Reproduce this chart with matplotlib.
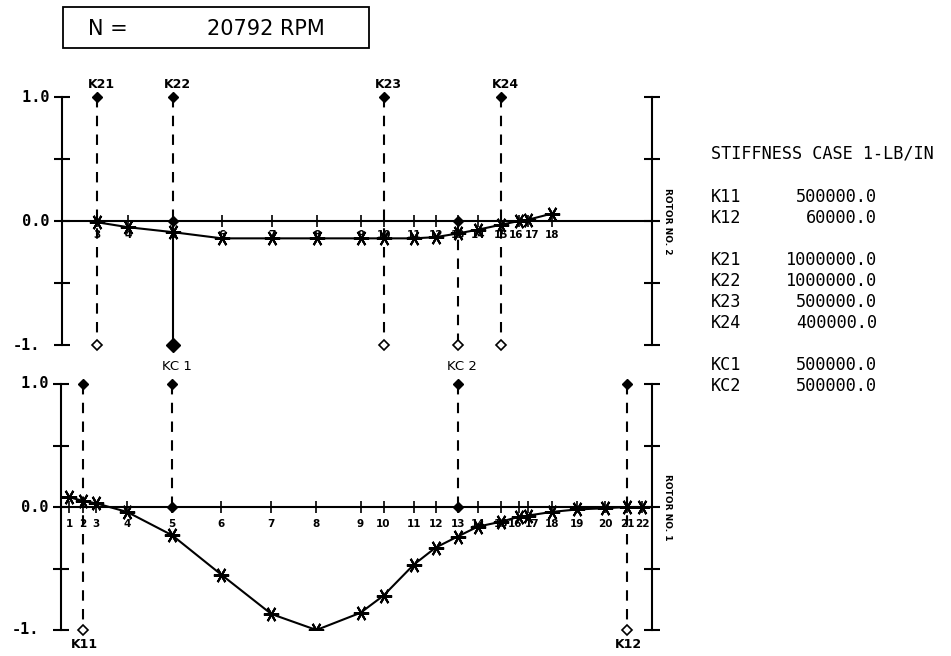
import matplotlib.pyplot as plt
from matplotlib.patches import Rectangle
from matplotlib.transforms import blended_transform_factory

# axial location of every station along the shafts (stations 1..22)
station_x = [0.8, 2.2, 3.5, 6.6, 11.1, 16.0, 21.0, 25.5, 29.9, 32.2, 35.2,
             37.4, 39.6, 41.6, 43.9, 45.7, 46.6, 49.0, 51.5, 54.3, 56.5, 58.0]

# rotor 1 normalised mode shape
rotor1_stations = list(range(1, 23))
rotor1_defl = [0.08, 0.05, 0.03, -0.04, -0.23, -0.55, -0.87, -1.0, -0.86, -0.72, -0.47,
               -0.33, -0.24, -0.16, -0.12, -0.08, -0.07, -0.04, -0.02, -0.01, 0.0, 0.0]

# rotor 2 normalised mode shape
rotor2_stations = list(range(3, 19))
rotor2_defl = [-0.01, -0.05, -0.09, -0.14, -0.14, -0.14, -0.14, -0.14, -0.14, -0.13,
               -0.10, -0.07, -0.03, 0.0, 0.01, 0.06]

# bearing springs (name, station) and intershaft couplings
rotor1_springs = ['K11', 'K12']
rotor1_spring_st = [2, 21]
rotor2_springs = ['K21', 'K22', 'K23', 'K24']
rotor2_spring_st = [3, 5, 10, 15]
couplings = ['KC 1', 'KC 2']
coupling_st = [5, 13]

# stiffness table
table_names = ['K11', 'K12', None, 'K21', 'K22', 'K23', 'K24', None, 'KC1', 'KC2']
table_vals = [500000.0, 60000.0, None, 1000000.0, 1000000.0, 500000.0, 400000.0,
              None, 500000.0, 500000.0]

speed_rpm = 20792

W, H = 951, 656
fig = plt.figure(figsize=(W / 100, H / 100), dpi=100)

ax2 = fig.add_axes([62 / W, 1 - 345 / H, 590 / W, 248 / H])
ax1 = fig.add_axes([61 / W, 1 - 630 / H, 591 / W, 246 / H])

mono = 'DejaVu Sans Mono'


def draw_rotor(ax, stations, defl, label_y, rotor_name):
    xs = [station_x[s - 1] for s in stations]
    ax.set_xlim(0, 59)
    ax.set_ylim(-1, 1)
    ax.spines['top'].set_visible(False)
    ax.spines['bottom'].set_visible(False)
    for side in ['left', 'right']:
        ax.spines[side].set_linewidth(1.5)
    ax.set_xticks([])
    ax.set_yticks([-1, -0.5, 0, 0.5, 1])
    ax.set_yticklabels([])
    ax.tick_params(axis='y', direction='inout', length=11, width=1.5,
                   left=True, right=True)
    ax.patch.set_visible(False)

    trans = blended_transform_factory(ax.transAxes, ax.transData)
    for y, lab in zip([1.0, 0.0, -1.0], [' 1.0', ' 0.0', '-1.']):
        ax.text(-0.083, y, lab, transform=trans, ha='left', va='center',
                family=mono, fontweight='bold', fontsize=11)
    ax.text(1.027, 0, rotor_name, transform=trans, rotation=-90,
            ha='center', va='center', fontsize=6.5, fontweight='bold')

    # shaft centre line with station ticks
    ax.axhline(0, color='k', lw=1.5, zorder=2)
    ax.plot(xs, [0] * len(xs), ls='none', marker='|', ms=9, mew=1.2,
            color='k', zorder=2)
    ax.plot(xs, defl, color='k', lw=1.5, marker=(6, 2, 90), ms=11, mew=1.5,
            zorder=4)

    # station numbers; crowded neighbours are pushed apart
    for i, (s, x) in enumerate(zip(stations, xs)):
        ha, dx = 'center', 0
        if i + 1 < len(xs) and xs[i + 1] - x < 1.2:
            ha, dx = 'right', 0.4
        elif i > 0 and x - xs[i - 1] < 1.2:
            ha, dx = 'left', -0.3
        ax.text(x + dx, label_y, str(s), ha=ha, va='center', fontsize=7.5,
                fontweight='bold', zorder=3)


draw_rotor(ax2, rotor2_stations, rotor2_defl, -0.11, 'ROTOR NO. 2')
draw_rotor(ax1, rotor1_stations, rotor1_defl, -0.14, 'ROTOR NO. 1')

dash = (0, (5, 4))
filled = dict(marker='D', ms=5, color='k', clip_on=False, zorder=5)
hollow = dict(marker='D', ms=5, mfc='white', mec='k', mew=1.2, clip_on=False, zorder=5)

# rotor 2 bearing springs
for name, st in zip(rotor2_springs, rotor2_spring_st):
    x = station_x[st - 1]
    bottom = 0 if st in coupling_st else -1
    ax2.plot([x, x], [1, bottom], ls=dash, lw=1.5, color='k', clip_on=False)
    ax2.plot(x, 1, **filled)
    if bottom == -1:
        ax2.plot(x, -1, **hollow)
    ax2.text(x + 0.4, 1.1, name, ha='center', va='center', fontsize=9,
             fontweight='bold')

# rotor 1 bearing springs
for name, st in zip(rotor1_springs, rotor1_spring_st):
    x = station_x[st - 1]
    ax1.plot([x, x], [1, -1], ls=dash, lw=1.5, color='k', clip_on=False)
    ax1.plot(x, 1, **filled)
    ax1.plot(x, -1, **hollow)
    ax1.text(x + 0.1, -1.12, name, ha='center', va='center', fontsize=9,
             fontweight='bold')

# intershaft couplings between the two rotors
for name, st in zip(couplings, coupling_st):
    x = station_x[st - 1]
    shared = st in rotor2_spring_st
    ax2.plot([x, x], [0, -1], ls='-' if shared else dash, lw=1.5, color='k',
             clip_on=False)
    ax2.plot(x, 0, **filled)
    if shared:
        ax2.plot(x, -1, marker='D', ms=7, color='k', clip_on=False, zorder=5)
    else:
        ax2.plot(x, -1, **hollow)
    ax2.text(x - 1.1, -1.17, name, ha='left', va='center', fontsize=9.5)
    ax1.plot([x, x], [1, 0], ls=dash, lw=1.5, color='k', clip_on=False)
    ax1.plot(x, 1, **filled)
    ax1.plot(x, 0, **filled)

# speed box
fig.patches.append(Rectangle((63 / W, 1 - 48 / H), 306 / W, 41 / H, fill=False,
                             lw=1.3, ec='k', transform=fig.transFigure))
fig.text(88 / W, 1 - 29 / H, 'N =', ha='left', va='center', fontsize=15)
fig.text(207 / W, 1 - 29 / H, f'{speed_rpm} RPM', ha='left', va='center',
         fontsize=15)

# stiffness table
fig.text(711 / W, 1 - 153 / H, 'STIFFNESS CASE 1-LB/IN', ha='left', va='center',
         family=mono, fontsize=12.2)
for i, (name, val) in enumerate(zip(table_names, table_vals)):
    if name is None:
        continue
    y = 1 - (197 + 21 * i) / H
    fig.text(711 / W, y, name, ha='left', va='center', family=mono, fontsize=12.2)
    fig.text(877 / W, y, f'{val:.1f}', ha='right', va='center', family=mono,
             fontsize=12.2)

fig.savefig('out.png', dpi=100)
